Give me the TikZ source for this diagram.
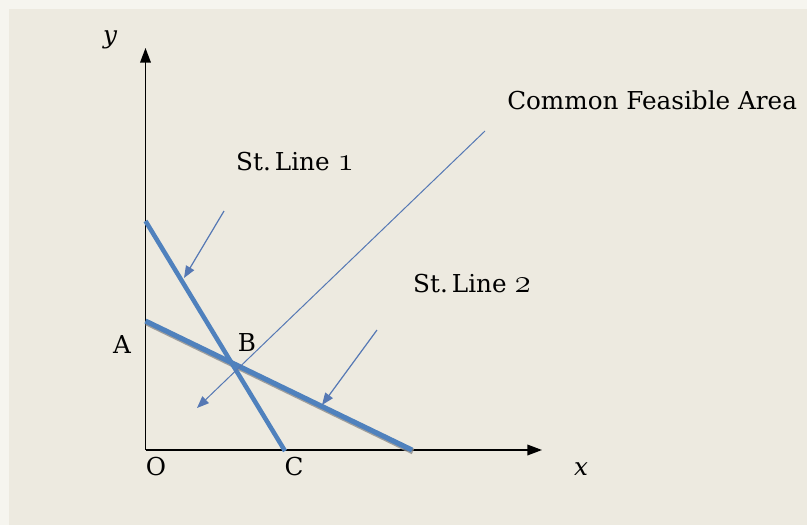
\documentclass[tikz,border=0pt]{standalone}
\usepackage{fontspec}
\setmainfont{DejaVu Serif}
\usepackage{tikz}
\usetikzlibrary{calc, positioning, arrows.meta}
\usepackage{xcolor}
\definecolor{fondbeige}{RGB}{237, 234, 224}
\definecolor{fondclair}{RGB}{246, 245, 239}
\definecolor{bleuligne}{RGB}{79, 129, 189}
\definecolor{bleufleche}{RGB}{85, 120, 180}
\definecolor{ombre}{RGB}{140, 140, 140}
\newcommand{\chiffre}[1]{{\fontsize{24}{24}\selectfont\legacyoldstylenums{#1}}}

\begin{document}
\begin{tikzpicture}[
    x=0.75pt, y=-0.75pt,
    axe/.style={-{Triangle[length=11pt, width=8pt]}, line width=1.1pt, black},
    droite/.style={line width=3.4pt, bleuligne},
    fleche/.style={-{Triangle[length=9pt, width=7pt]}, line width=0.9pt, bleufleche},
    etiq/.style={font=\fontsize{18.5}{22}\selectfont, text=black, inner sep=0pt}
]

% --- fond ---
\fill[fondclair] (0,0) rectangle (807,525);
\fill[fondbeige] (9,9) rectangle (807,525);
\useasboundingbox (0,0) rectangle (807,525);

% --- points ---
\coordinate (O) at (145.5,450);
\coordinate (xfin) at (542,450);
\coordinate (yfin) at (145.5,48);
\coordinate (haut1) at (145.5,221);
\coordinate (bas1) at (285,451);
\coordinate (haut2) at (145.5,321);
\coordinate (bas2) at (412,450);

% ============================================================
%  AXES
% ============================================================
\draw[axe] (O) -- (xfin);
\draw[axe] (O) -- (yfin);

\node[etiq, font=\fontsize{18.5}{22}\selectfont\itshape] (ylab) at (110,40) {y};
\node[etiq, font=\fontsize{18.5}{22}\selectfont\itshape] (xlab) at (581,469) {x};
\node[etiq] (olab) at (156,467) {O};
\node[etiq] (clab) at (294,467) {C};
\node[etiq] (alab) at (122,345) {A};
\node[etiq] (blab) at (247,343) {B};

% ============================================================
%  DROITES
% ============================================================
\draw[line width=4.4pt, ombre, opacity=0.8] ($(haut2)+(1,1.5)$) -- ($(bas2)+(1,1.5)$);
\draw[droite, line width=3.8pt] (haut2) -- (bas2);
\draw[droite] (haut1) -- (bas1);

% ============================================================
%  LIBELLES ET FLECHES
% ============================================================
\node[etiq] (ligne1) at (295,162) {St.\,Line \chiffre{1}};
\node[etiq] (ligne2) at (472,284) {St.\,Line \chiffre{2}};
\node[etiq, anchor=west] (zone) at (507,100) {Common Feasible Area};

\coordinate (f1a) at (224,211);
\coordinate (f1b) at (184,278);
\coordinate (f2a) at (377,330);
\coordinate (f2b) at (322,405);
\coordinate (f3a) at (485,131);
\coordinate (f3b) at (197,408);

\draw[fleche] (f1a) -- (f1b);
\draw[fleche] (f2a) -- (f2b);
\draw[fleche, line width=0.75pt] (f3a) -- (f3b);

\end{tikzpicture}
\end{document}
